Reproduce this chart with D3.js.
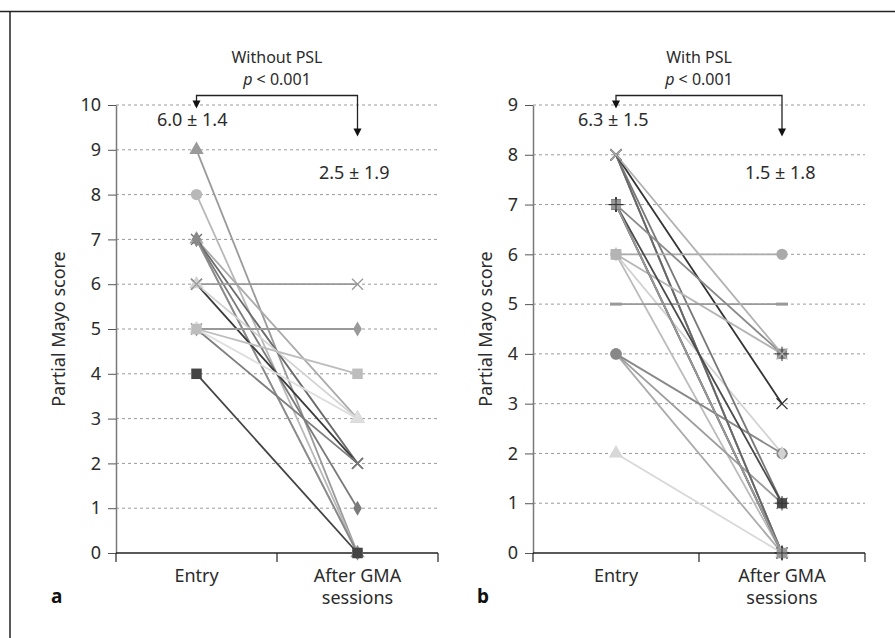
<!DOCTYPE html>
<html lang="en">
<head>
<meta charset="utf-8">
<title>Partial Mayo score before and after GMA</title>
<script src="https://d3js.org/d3.v7.min.js"></script>
<style>
  body { margin: 0; background: #fff; }
  svg text { font-family: 'Noto Sans', 'Open Sans', sans-serif; fill: #2b2b2b; }
  .grid { stroke: #9a9a9a; stroke-width: 1; stroke-dasharray: 3,3; }
</style>
</head>
<body>
<svg id="chart" width="895" height="638"></svg>
<script>
// categories on the x axis
const categories = ["Entry", "After GMA sessions"];

// panel a: without PSL (one value per patient)
const entryA = [9, 8, 7, 7, 7, 7, 7, 6, 6, 6, 5, 5, 5, 5, 4];
const afterA = [0, 0, 3, 2, 0, 1, 0, 2, 3, 6, 2, 5, 3, 4, 0];
const titleA = ["Without PSL", "p < 0.001"];
const meansA = ["6.0 ± 1.4", "2.5 ± 1.9"];
const yTicksA = [0, 1, 2, 3, 4, 5, 6, 7, 8, 9, 10];

// panel b: with PSL
const entryB = [2, 6, 4, 4, 4, 6, 8, 8, 8, 8, 8, 6, 6, 5, 7, 8, 7, 7, 7, 7];
const afterB = [0, 0, 0, 1, 2, 2, 0, 0, 0, 1, 3, 6, 4, 5, 4, 4, 1, 0, 0, 0];
const titleB = ["With PSL", "p < 0.001"];
const meansB = ["6.3 ± 1.5", "1.5 ± 1.8"];
const yTicksB = [0, 1, 2, 3, 4, 5, 6, 7, 8, 9];

// marker styles (shape, grey) for each line
const styleA = [
  ["triangle", "#9a9a9a"], ["circle", "#b8b8b8"], ["triangle", "#ababab"], ["times", "#6a6a6a"],
  ["diamond", "#aaa"], ["diamond", "#7a7a7a"], ["diamond", "#8a8a8a"], ["times", "#3a3a3a"],
  ["triangle", "#d2d2d2"], ["times", "#999"], ["times", "#7d7d7d"], ["diamond", "#999"],
  ["triangle", "#dedede"], ["square", "#bdbdbd"], ["square", "#444"]
];
const styleB = [
  ["triangle", "#d8d8d8"], ["square", "#bbb"], ["circle", "#ababab"], ["circle", "#9c9c9c"],
  ["circle", "#888"], ["diamond", "#d2d2d2"], ["times", "#888"], ["times", "#9d9d9d"],
  ["times", "#666"], ["times", "#777"], ["times", "#333"], ["circle", "#aaa"],
  ["square", "#b4b4b4"], ["dash", "#999"], ["squarePlus", "#8a8a8a"], ["times", "#b0b0b0"],
  ["squarePlus", "#4a4a4a"], ["squarePlus", "#777"], ["squarePlus", "#555"], ["squarePlus", "#999"]
];

const svg = d3.select("#chart");

// figure frame (top and left rules)
svg.append("line").attr("x1", 0).attr("x2", 895).attr("y1", 11.5).attr("y2", 11.5)
  .attr("stroke", "#222").attr("stroke-width", 1.5);
svg.append("line").attr("x1", 10).attr("x2", 10).attr("y1", 11).attr("y2", 638)
  .attr("stroke", "#222").attr("stroke-width", 1.5);

function drawMarker(g, shape, color, cx, cy) {
  const m = g.append("g").attr("transform", "translate(" + cx + "," + cy + ")");
  if (shape === "circle") {
    m.append("path").attr("d", d3.symbol(d3.symbolCircle, 100)()).attr("fill", color);
  } else if (shape === "square") {
    m.append("path").attr("d", d3.symbol(d3.symbolSquare, 110)()).attr("fill", color);
  } else if (shape === "squarePlus") {
    m.append("path").attr("d", d3.symbol(d3.symbolSquare, 100)()).attr("fill", color);
    m.append("path").attr("d", d3.symbol(d3.symbolPlus, 70)()).attr("fill", "none")
      .attr("stroke", "#333").attr("stroke-width", 1);
  } else if (shape === "diamond") {
    m.append("path").attr("d", d3.symbol(d3.symbolDiamond, 65)()).attr("fill", color);
  } else if (shape === "triangle") {
    m.append("path").attr("d", d3.symbol(d3.symbolTriangle, 90)()).attr("fill", color);
  } else if (shape === "times") {
    m.append("path").attr("d", d3.symbol(d3.symbolTimes, 80)()).attr("fill", "none")
      .attr("stroke", color).attr("stroke-width", 1.3);
  } else if (shape === "dash") {
    m.append("rect").attr("x", -6).attr("y", -1.5).attr("width", 12).attr("height", 3).attr("fill", color);
  }
}

function drawPanel(opt) {
  const g = svg.append("g");
  const x = d3.scaleBand().domain(categories).range([opt.left, opt.right]);
  const y = d3.scaleLinear().domain([0, d3.max(opt.yTicks)]).range([553, 105]);

  // dashed gridlines
  g.selectAll(".grid").data(opt.yTicks.filter(d => d > 0)).join("line")
    .attr("class", "grid")
    .attr("x1", opt.left).attr("x2", opt.right)
    .attr("y1", d => y(d)).attr("y2", d => y(d));

  // y axis
  const yAxis = g.append("g").attr("transform", "translate(" + opt.left + ",0)")
    .call(d3.axisLeft(y).tickValues(opt.yTicks).tickSize(8).tickSizeOuter(0).tickPadding(7));
  yAxis.select(".domain").attr("stroke", "#7a7a7a").attr("stroke-width", 1.5);
  yAxis.selectAll(".tick line").attr("stroke", "#555");
  yAxis.selectAll(".tick text").attr("font-size", 18).style("fill", "#2b2b2b")
    .style("font-family", "'Noto Sans', sans-serif");

  // x axis baseline with ticks at band edges
  g.append("line").attr("x1", opt.left).attr("x2", opt.right)
    .attr("y1", y(0)).attr("y2", y(0)).attr("stroke", "#222").attr("stroke-width", 1.5);
  const edges = categories.map(c => x(c)).concat([opt.right]);
  g.selectAll(".xtick").data(edges).join("line")
    .attr("x1", d => d).attr("x2", d => d)
    .attr("y1", y(0)).attr("y2", y(0) + 9)
    .attr("stroke", "#222").attr("stroke-width", 1.2);
  categories.forEach(c => {
    const words = c === "Entry" ? ["Entry"] : ["After GMA", "sessions"];
    words.forEach((w, i) => {
      g.append("text").attr("x", x(c) + x.bandwidth() / 2).attr("y", 582 + i * 22)
        .attr("text-anchor", "middle").attr("font-size", 18).text(w);
    });
  });

  // y axis title
  g.append("text")
    .attr("transform", "translate(" + opt.titleX + "," + ((y(0) + y(d3.max(opt.yTicks))) / 2) + ") rotate(-90)")
    .attr("text-anchor", "middle").attr("font-size", 18).text("Partial Mayo score");

  // panel letter
  g.append("text").attr("x", opt.letterX).attr("y", 603)
    .attr("font-size", 19).attr("font-weight", "bold").style("fill", "#111").text(opt.letter);

  // patient lines
  const cx0 = x(categories[0]) + x.bandwidth() / 2;
  const cx1 = x(categories[1]) + x.bandwidth() / 2;
  opt.entry.forEach((e, i) => {
    const a = opt.after[i];
    const st = opt.style[i];
    g.append("line").attr("x1", cx0).attr("y1", y(e)).attr("x2", cx1).attr("y2", y(a))
      .attr("stroke", st[1]).attr("stroke-width", 1.8);
  });
  opt.entry.forEach((e, i) => {
    const st = opt.style[i];
    drawMarker(g, st[0], st[1], cx0, y(e));
    drawMarker(g, st[0], st[1], cx1, y(opt.after[i]));
  });

  // title with p value and bracket arrows
  const mid = (cx0 + cx1) / 2;
  g.append("text").attr("x", mid).attr("y", 63).attr("text-anchor", "middle")
    .attr("font-size", 16).text(opt.title[0]);
  const p = g.append("text").attr("x", mid).attr("y", 85).attr("text-anchor", "middle").attr("font-size", 16);
  p.append("tspan").attr("font-style", "italic").text("p");
  p.append("tspan").text(opt.title[1].slice(1));

  const by = 95.5;
  g.append("path")
    .attr("d", "M" + cx0 + "," + (by + 9) + "V" + by + "H" + cx1 + "V" + (by + 34))
    .attr("fill", "none").attr("stroke", "#222").attr("stroke-width", 1.3);
  [[cx0, by + 13], [cx1, by + 41]].forEach(t => {
    g.append("path")
      .attr("d", "M" + (t[0] - 4) + "," + (t[1] - 8) + "L" + (t[0] + 4) + "," + (t[1] - 8) + "L" + t[0] + "," + t[1] + "Z")
      .attr("fill", "#111");
  });

  // mean ± SD labels
  g.append("text").attr("x", opt.meanX[0]).attr("y", 126).attr("font-size", 18).text(opt.means[0]);
  g.append("text").attr("x", opt.meanX[1]).attr("y", 179).attr("font-size", 18).text(opt.means[1]);
}

drawPanel({
  left: 116, right: 438, yTicks: yTicksA, entry: entryA, after: afterA, style: styleA,
  title: titleA, means: meansA, meanX: [157, 319], letter: "a", letterX: 51, titleX: 65
});
drawPanel({
  left: 533, right: 865, yTicks: yTicksB, entry: entryB, after: afterB, style: styleB,
  title: titleB, means: meansB, meanX: [578, 745], letter: "b", letterX: 477, titleX: 492
});
</script>
</body>
</html>
